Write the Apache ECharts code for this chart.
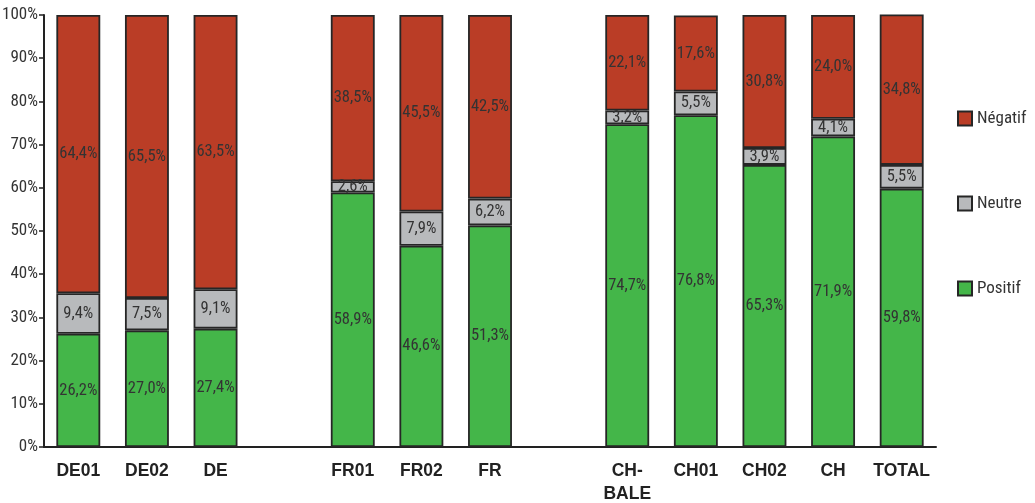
<!DOCTYPE html>
<html>
<head>
<meta charset="utf-8">
<script src="https://cdn.jsdelivr.net/npm/echarts@6/dist/echarts.min.js"></script>
<style>
  html, body { margin: 0; padding: 0; background: #fff; }
  #chart { width: 1035px; height: 503px; }
</style>
</head>
<body>
<div id="chart"></div>
<script>
// Site groups; empty strings leave a spacer between the DE, FR and CH groups
const categories = ['DE01', 'DE02', 'DE', '', 'FR01', 'FR02', 'FR', '', 'CH-\nBALE', 'CH01', 'CH02', 'CH', 'TOTAL'];
const positif = [26.2, 27.0, 27.4, null, 58.9, 46.6, 51.3, null, 74.7, 76.8, 65.3, 71.9, 59.8];
const neutre  = [9.4, 7.5, 9.1, null, 2.6, 7.9, 6.2, null, 3.2, 5.5, 3.9, 4.1, 5.5];
const negatif = [64.4, 65.5, 63.5, null, 38.5, 45.5, 42.5, null, 22.1, 17.6, 30.8, 24.0, 34.8];
const yTicks = [0, 10, 20, 30, 40, 50, 60, 70, 80, 90, 100];

const narrow = '"Liberation Sans Narrow", "Arial Narrow", "Roboto Condensed", sans-serif';
const fmt = v => v.toFixed(1).replace('.', ',') + '%';

function series(name, data, color) {
  return {
    name, type: 'bar', stack: 'all', data,
    barWidth: '64%',
    itemStyle: { color, borderColor: '#262626', borderWidth: 1.8 },
    label: {
      show: true, position: 'inside',
      formatter: p => fmt(p.value),
      color: '#333', fontFamily: narrow, fontSize: 16.5
    }
  };
}

const chart = echarts.init(document.getElementById('chart'), null, { renderer: 'canvas' });
chart.setOption({
  animation: false,
  grid: { left: 44, right: 99, top: 15, bottom: 56, outerBoundsMode: 'none', containLabel: false },
  legend: {
    orient: 'vertical', left: 952, top: 105,
    itemWidth: 14, itemHeight: 14, itemGap: 68,
    icon: 'rect',
    textStyle: { fontFamily: narrow, fontSize: 17, color: '#333' },
    data: ['Négatif', 'Neutre', 'Positif']
  },
  xAxis: {
    type: 'category', data: categories,
    axisLine: { lineStyle: { color: '#222', width: 2 } },
    axisTick: { show: false },
    axisLabel: {
      interval: 0, margin: 13,
      fontFamily: '"Liberation Sans", Arial, sans-serif', fontWeight: 'bold',
      fontSize: 17.5, color: '#222', lineHeight: 23
    }
  },
  yAxis: {
    type: 'value', min: 0, max: 100, interval: 10,
    axisLine: { show: true, lineStyle: { color: '#222', width: 2 } },
    axisTick: { show: true, length: 5, lineStyle: { color: '#222', width: 1.5 } },
    splitLine: { show: false },
    axisLabel: {
      margin: 6,
      formatter: v => yTicks.includes(v) ? v + '%' : '',
      fontFamily: narrow, fontSize: 17, color: '#333'
    }
  },
  series: [
    series('Positif', positif, '#44B649'),
    series('Neutre', neutre, '#B8BABC'),
    series('Négatif', negatif, '#BA3D26')
  ]
});
</script>
</body>
</html>
